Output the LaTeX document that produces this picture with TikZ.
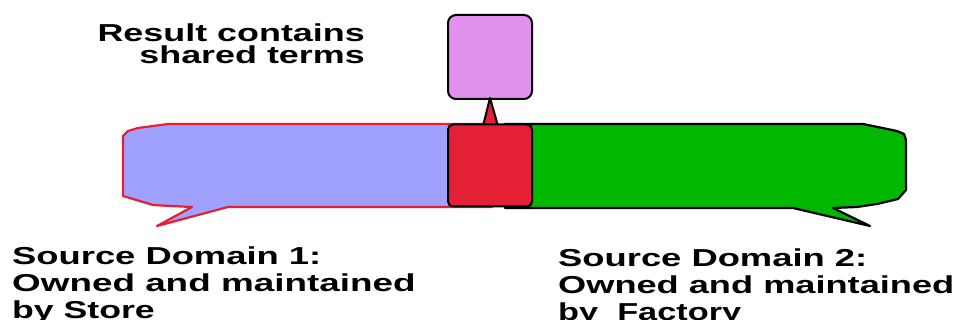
\documentclass[tikz,border=0pt]{standalone}
\usepackage{graphicx}
\usepackage{fontspec}
\setmainfont{Liberation Sans}
\usetikzlibrary{calc}
\definecolor{bubbleblue}{RGB}{160,160,255}
\definecolor{domred}{RGB}{228,32,52}
\definecolor{domgreen}{RGB}{0,184,0}
\definecolor{resviolet}{RGB}{224,146,236}

\begin{document}
\begin{tikzpicture}[x=1pt,y=-1pt,
  txt/.style={font=\fontsize{24.5}{24.5}\selectfont\bfseries, inner sep=0pt},
  termbox/.style={draw=black, line width=2pt, inner sep=0pt,
    minimum width=84pt, minimum height=#1},
  bubble/.style={line width=2.2pt, line join=round}]
\useasboundingbox (0,0) rectangle (955,320);

% Source domain 1 (store)
\filldraw[bubble, draw=domred, fill=bubbleblue]
  (168,124) -- (492,124) -- (492,207) -- (228,207) -- (157,226) -- (192,207)
  -- (170,206) -- (153,205) -- (143,202) -- (123,196) -- (123,136)
  -- (128,131) -- (138,128) -- cycle;

% Source domain 2 (factory)
\filldraw[bubble, draw=black, fill=domgreen]
  (505,124) -- (863,124) -- (897,131) -- (904,134) -- (906,140) -- (906,190)
  -- (898,199) -- (877,204) -- (857,207) -- (833,208) -- (870,226)
  -- (793,208) -- (505,208) -- cycle;

% result box and shared terms
\node[termbox=84pt, rounded corners=8pt, fill=resviolet] (res) at (490,57) {};
\filldraw[draw=black, fill=domred, line width=2pt, line join=round]
  ($(res.south)+(-7,26)$) -- ([yshift=2pt]res.south) -- ($(res.south)+(8,26)$) -- cycle;
\node[termbox=82pt, rounded corners=5pt, fill=domred] (shared) at (490,165.5) {};

% labels (base anchor of a multi-line node sits on its last line)
\node[txt, font=\fontsize{24.5}{21.6}\selectfont\bfseries, align=right,
      anchor=base east] (cap) at (365,63.3)
  {\scalebox{1.465}[1]{Result contains}\\\scalebox{1.465}[1]{shared terms}};

\node[txt, anchor=base west] (s1a) at (12,265) {\scalebox{1.484}[1]{Source Domain 1:}};
\node[txt, anchor=base west] (s1b) at (12,291.7) {\scalebox{1.504}[1]{Owned and maintained}};
\node[txt, anchor=base west] (s1c) at (12,318.3) {\scalebox{1.455}[1]{by Store}};

\node[txt, anchor=base west] (s2a) at (558,266.5) {\scalebox{1.484}[1]{Source Domain 2:}};
\node[txt, anchor=base west] (s2b) at (558,293.5) {\scalebox{1.477}[1]{Owned and maintained}};
\node[txt, anchor=base west] (s2c) at (558,320.5) {\scalebox{1.40}[1]{by\ \ Factory}};
\end{tikzpicture}
\end{document}
